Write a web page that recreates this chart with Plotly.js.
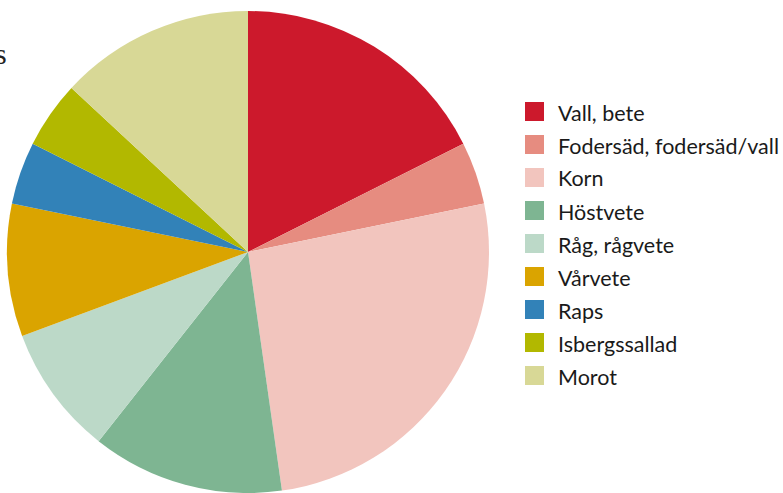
<!DOCTYPE html>
<html>
<head>
<meta charset="utf-8">
<script src="https://cdn.plot.ly/plotly-3.0.1.min.js"></script>
<style>html,body{margin:0;padding:0;background:#fff;}#chart{width:783px;height:493px;}</style>
</head>
<body>
<div id="chart"></div>
<script>
const categories = ["Vall, bete", "Fodersäd, fodersäd/vall", "Korn", "Höstvete", "Råg, rågvete", "Vårvete", "Raps", "Isbergssallad", "Morot"];
const values = [17.6, 4.2, 26.0, 12.9, 8.7, 8.9, 4.2, 4.5, 13.1];
const colors = ["#cc192c", "#e68c80", "#f2c5be", "#7eb592", "#bcd9c8", "#daa400", "#3282b8", "#b2b800", "#d8d896"];
const cutTitle = "s";

const W = 783, H = 493;
const px = v => v / W, py = v => 1 - v / H;

const shapes = [];
const annotations = [];
categories.forEach((c, i) => {
  const cy = 111.5 + i * 33;
  shapes.push({type: "rect", xref: "paper", yref: "paper",
    x0: px(525), x1: px(544), y0: py(cy + 9.5), y1: py(cy - 9.5),
    fillcolor: colors[i], line: {width: 0}});
  annotations.push({xref: "paper", yref: "paper", x: px(556), y: py(cy + 1),
    xanchor: "left", yanchor: "middle", text: c, showarrow: false,
    font: {family: "Lato", size: 21.5, color: "#1a1a1a"}});
});
annotations.push({xref: "paper", yref: "paper", x: px(9), y: py(54),
  xanchor: "right", yanchor: "middle", text: cutTitle, showarrow: false,
  font: {family: "Liberation Serif", size: 30, color: "#222"}});

const data = [{
  type: "pie",
  labels: categories,
  values: values,
  marker: {colors: colors, line: {width: 0}},
  sort: false,
  direction: "clockwise",
  rotation: 0,
  textinfo: "none",
  hoverinfo: "label+percent",
  showlegend: false,
  domain: {x: [7 / W, 489 / W], y: [0, (H - 11) / H]}
}];

const layout = {
  width: W, height: H,
  margin: {l: 0, r: 0, t: 0, b: 0},
  paper_bgcolor: "#fff",
  showlegend: false,
  shapes: shapes,
  annotations: annotations
};

Plotly.newPlot("chart", data, layout, {displayModeBar: false, staticPlot: true});
</script>
</body>
</html>
